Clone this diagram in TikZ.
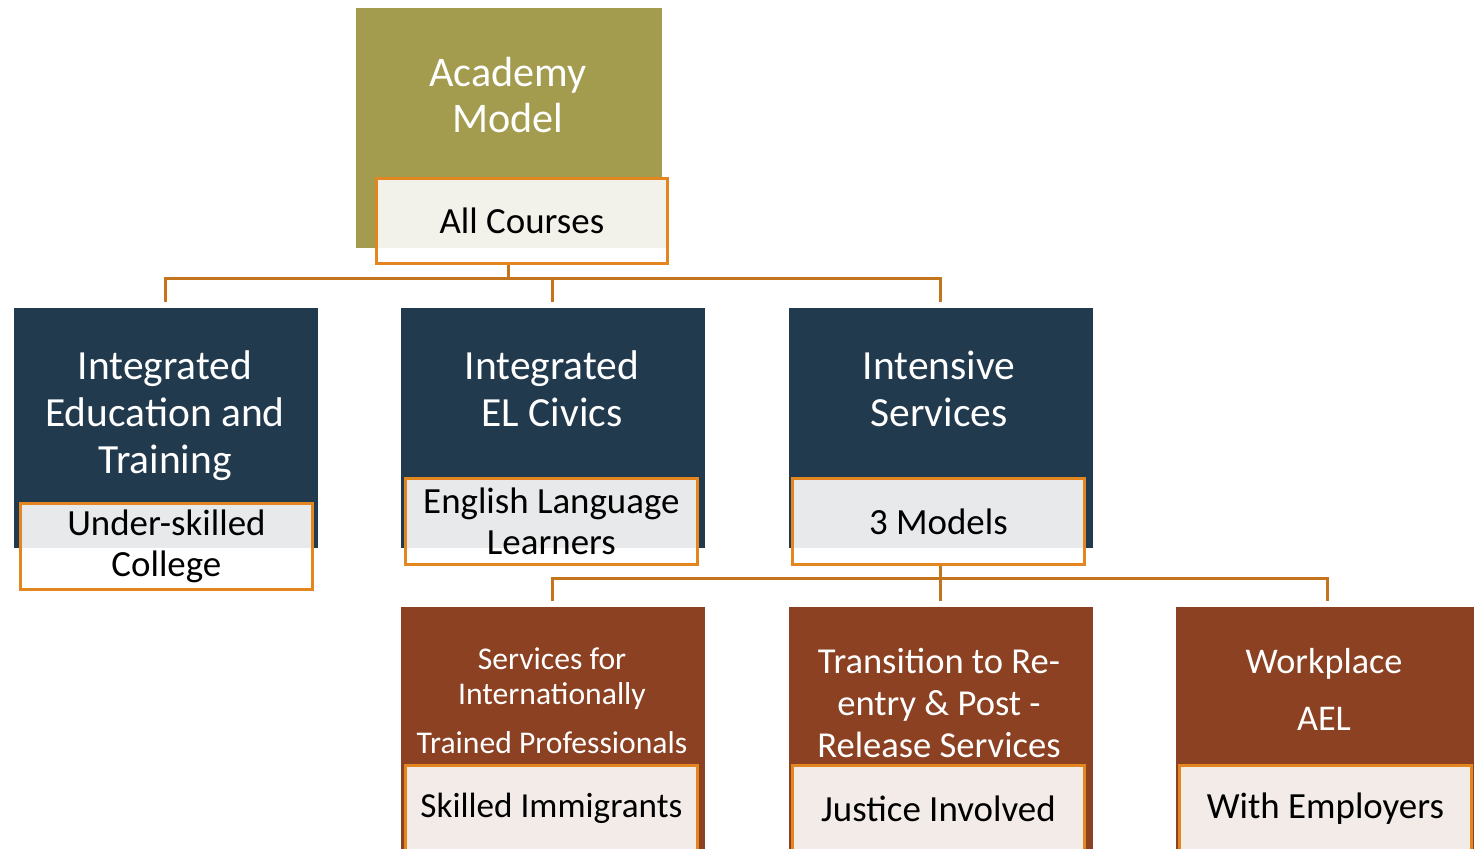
\documentclass[tikz,border=0pt]{standalone}
\usepackage{fontspec}
\setmainfont{Carlito}
\definecolor{acadolive}{HTML}{A39C4F}
\definecolor{navyblue}{HTML}{223A4E}
\definecolor{rustbrown}{HTML}{8B4122}
\definecolor{subline}{HTML}{E3861F}
\definecolor{connline}{HTML}{C4741C}
\definecolor{subcream}{HTML}{F3F2EA}
\definecolor{subgray}{HTML}{E8E9EB}
\definecolor{subpink}{HTML}{F2EBE8}
\newcommand{\bigtitle}{\fontsize{11.8}{13.4}\selectfont}
\newcommand{\subtext}{\fontsize{10.5}{11.7}\selectfont}

\begin{document}
\begin{tikzpicture}[
  box/.style={rectangle, inner sep=0pt, minimum width=3.04cm,
    minimum height=2.40cm, anchor=north west},
  subbox/.style={rectangle, draw=subline, line width=0.8pt, inner sep=0pt,
    minimum width=2.92cm, minimum height=0.86cm, anchor=north west,
    align=center, font=\subtext},
  upper/.style 2 args={fill=white, path picture={
      \fill[#1] (path picture bounding box.north west)
        rectangle (#2.south -| path picture bounding box.east);}},
  title/.style={text=white, align=center},
  conn/.style={connline, line width=0.9pt, shorten >=0.05cm}]
  \useasboundingbox (0,0) rectangle (14.74,-8.48);
  \clip (0,0) rectangle (14.74,-8.48);

  % top
  \node[box, fill=acadolive, minimum width=3.06cm] (ac) at (3.55,-0.07) {};

  % second row
  \node[box, fill=navyblue] (iet) at (0.13,-3.07) {};
  \node[box, fill=navyblue] (ielc) at (4.00,-3.07) {};
  \node[box, fill=navyblue] (is) at (7.88,-3.07) {};

  % third row
  \node[box, fill=rustbrown, minimum height=2.50cm] (sitp) at (4.00,-6.06) {};
  \node[box, fill=rustbrown, minimum height=2.50cm] (trans) at (7.88,-6.06) {};
  \node[box, fill=rustbrown, minimum height=2.50cm] (work) at (11.75,-6.06) {};

  % connectors
  \draw[conn] (ac.south) -- ++(0,-0.30) -| (iet.north);
  \draw[conn] (ac.south) -- ++(0,-0.30) -| (ielc.north);
  \draw[conn] (ac.south) -- ++(0,-0.30) -| (is.north);
  \draw[conn] (is.south) -- ++(0,-0.30) -| (sitp.north);
  \draw[conn] (is.south) -- ++(0,-0.30) -| (trans.north);
  \draw[conn] (is.south) -- ++(0,-0.30) -| (work.north);

  % sub boxes
  \node[subbox, upper={subcream}{ac}, minimum width=2.91cm, minimum height=0.85cm]
    (acsub) at (3.75,-1.77) {All Courses};
  \node[subbox, upper={subgray}{iet}] (ietsub) at (0.19,-5.02) {Under-skilled\\College};
  \node[subbox, upper={subgray}{ielc}] (ielcsub) at (4.04,-4.77) {English Language\\Learners};
  \node[subbox, upper={subgray}{is}] (issub) at (7.91,-4.77) {3 Models};
  \node[subbox, fill=subpink, font=\fontsize{10}{11.7}\selectfont] (sitpsub) at (4.04,-7.64) {Skilled Immigrants};
  \node[subbox, fill=subpink] (transsub) at (7.91,-7.64) {Justice Involved};
  \node[subbox, fill=subpink] (worksub) at (11.78,-7.64) {With Employers};

  % titles
  \node[title, font=\fontsize{12}{13.1}\selectfont] (actxt) at (5.08,-0.95) {Academy\\Model};
  \node[title, font=\bigtitle] (iettxt) at (1.65,-4.16) {Integrated\\Education and\\Training};
  \node[title, font=\bigtitle] (ielctxt) at (5.52,-3.89) {Integrated\\EL Civics};
  \node[title, font=\bigtitle] (istxt) at (9.39,-3.89) {Intensive\\Services};
  \node[title, font=\fontsize{9}{10}\selectfont] (sitptxt) at (5.52,-7.01)
    {Services for\\Internationally\\[4pt]Trained Professionals};
  \node[title, font=\fontsize{10.4}{12}\selectfont] (transtxt) at (9.39,-7.03)
    {Transition to Re-\\entry \& Post -\\Release Services};
  \node[title, font=\fontsize{10.3}{16.2}\selectfont] (worktxt) at (13.24,-6.895) {Workplace\\AEL};
\end{tikzpicture}
\end{document}
